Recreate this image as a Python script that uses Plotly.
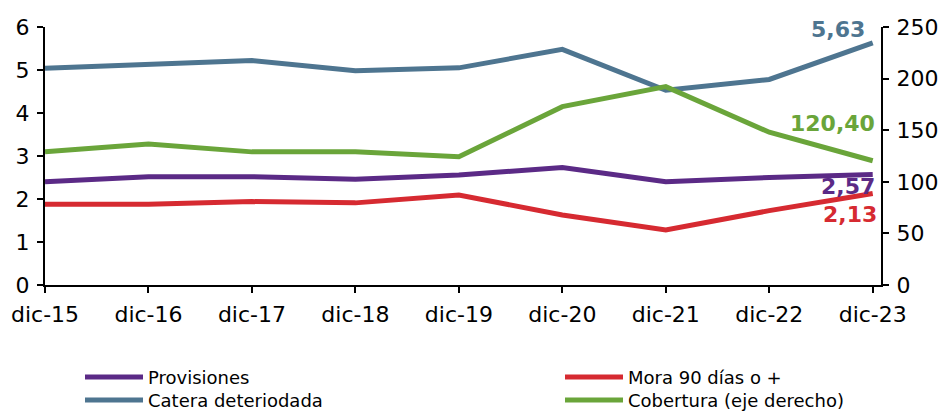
import plotly.graph_objects as go

# Categories (year-end) and series values
periodos = ["dic-15", "dic-16", "dic-17", "dic-18", "dic-19",
            "dic-20", "dic-21", "dic-22", "dic-23"]
provisiones = [2.40, 2.52, 2.52, 2.46, 2.56, 2.73, 2.40, 2.50, 2.57]
mora_90 = [1.88, 1.88, 1.94, 1.91, 2.09, 1.63, 1.28, 1.73, 2.13]
cartera_det = [5.04, 5.12, 5.22, 4.98, 5.05, 5.48, 4.53, 4.78, 5.63]
cobertura = [129.0, 136.6, 129.0, 129.0, 124.3, 172.8, 192.2, 148.0, 120.40]

left_ticks = [0, 1, 2, 3, 4, 5, 6]
right_ticks = [0, 50, 100, 150, 200, 250]

C_PROV = "#5B2A86"
C_MORA = "#D62A31"
C_CART = "#4E7590"
C_COB = "#6AA53A"

FONT = "DejaVu Sans"
W, H = 944, 412
ML, MR, MT, MB = 45, 63, 27, 127
PW, PH = W - ML - MR, H - MT - MB

fig = go.Figure()

series = [
    ("Provisiones", provisiones, C_PROV, "y"),
    ("Mora 90 días o +", mora_90, C_MORA, "y"),
    ("Catera deteriodada", cartera_det, C_CART, "y"),
    ("Cobertura (eje derecho)", cobertura, C_COB, "y2"),
]
for name, vals, col, ax in series:
    fig.add_trace(go.Scatter(
        x=list(range(len(periodos))), y=vals, name=name, mode="lines",
        line=dict(color=col, width=5), yaxis=ax, showlegend=False,
    ))

# End-of-series value labels
def fmt(v):
    return f"{v:.2f}".replace(".", ",")

last = len(periodos) - 1
labels = [
    (cartera_det[-1], C_CART, "y", -6, 13),
    (cobertura[-1], C_COB, "y2", 4, 37),
    (provisiones[-1], C_PROV, "y", 4, -12),
    (mora_90[-1], C_MORA, "y", 6, -21),
]
for val, col, yref, xs, ys in labels:
    fig.add_annotation(
        x=last, y=val, xref="x", yref=yref, text=f"<b>{fmt(val)}</b>",
        showarrow=False, xanchor="right", yanchor="middle",
        xshift=xs, yshift=ys, font=dict(family=FONT, size=22, color=col),
    )

# Legend drawn in two columns
def px_x(px):
    return (px - ML) / PW

def px_y(py):
    return (H - MB - py) / PH

legend_items = [
    ("Provisiones", C_PROV, 85, 377),
    ("Mora 90 días o +", C_MORA, 565, 377),
    ("Catera deteriodada", C_CART, 85, 400),
    ("Cobertura (eje derecho)", C_COB, 565, 400),
]
for text, col, lx, ly in legend_items:
    fig.add_shape(type="line", xref="paper", yref="paper",
                  x0=px_x(lx), x1=px_x(lx + 58), y0=px_y(ly), y1=px_y(ly),
                  line=dict(color=col, width=5))
    fig.add_annotation(x=px_x(lx + 61), y=px_y(ly), xref="paper", yref="paper",
                       text=text, showarrow=False, xanchor="left", yanchor="middle",
                       font=dict(family=FONT, size=18, color="#000000"))

axis_common = dict(showgrid=False, zeroline=False, showline=True,
                   linecolor="#000000", linewidth=2, ticks="outside",
                   ticklen=6, tickwidth=2, tickcolor="#000000",
                   ticklabelstandoff=3, automargin=False,
                   tickfont=dict(family=FONT, size=22, color="#000000"))

fig.update_layout(
    width=W, height=H, margin=dict(l=ML, r=MR, t=MT, b=MB),
    plot_bgcolor="#FFFFFF", paper_bgcolor="#FFFFFF",
    xaxis=dict(range=[0, 8.08], tickmode="array",
               tickvals=list(range(len(periodos))), ticktext=periodos,
               **axis_common),
    yaxis=dict(range=[0, 6], tickvals=left_ticks, **axis_common),
    yaxis2=dict(range=[0, 250], tickvals=right_ticks, overlaying="y",
                side="right", **axis_common),
)

fig.write_html("out.html")
